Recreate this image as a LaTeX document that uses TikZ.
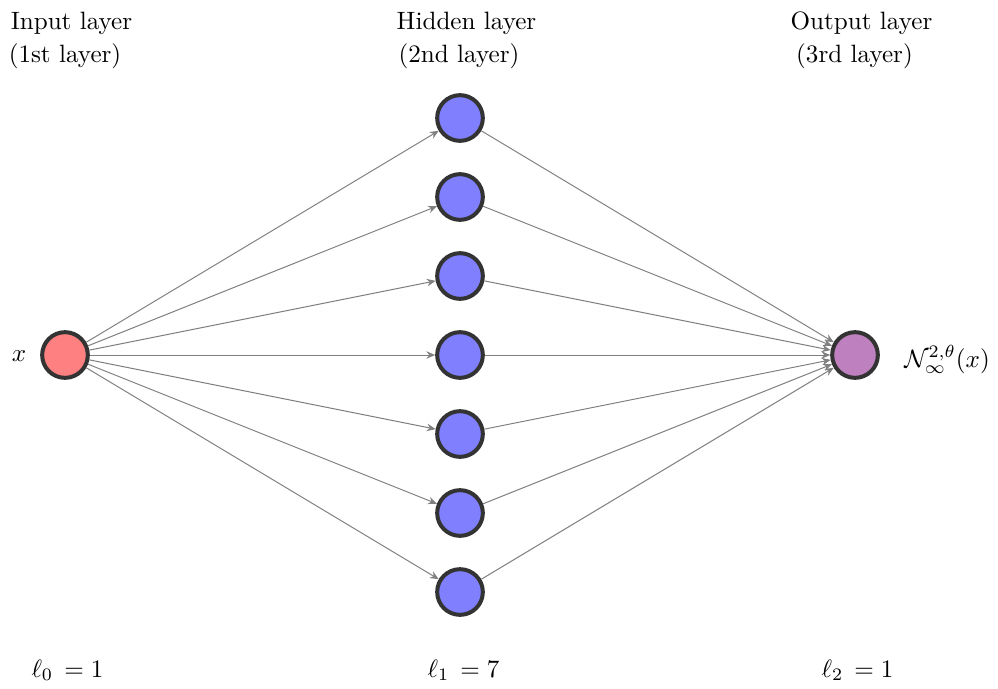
\documentclass[tikz,border=0pt]{standalone}
\usetikzlibrary{arrows.meta}
\begin{document}
\begin{tikzpicture}[x=0.3984pt,y=-0.3984pt,
  neuron/.style={circle,draw=black!80,line width=1.6pt,minimum size=18.2pt,inner sep=0pt},
  inputn/.style={neuron,fill=red!50},
  hiddenn/.style={neuron,fill=blue!50},
  outputn/.style={neuron,fill=violet!50},
  conn/.style={draw=gray,line width=0.4pt,-{Stealth[length=3.5pt,width=3pt]}},
  lbl/.style={inner sep=0pt,anchor=base}]
\useasboundingbox (0,0) rectangle (998,688);
% neurons
\node[inputn] (in) at (65,355) {};
\foreach \i/\y in {1/118,2/197,3/276,4/355,5/434,6/513,7/592}
  \node[hiddenn] (h\i) at (460,\y) {};
\node[outputn] (out) at (855,355) {};
% connectors
\foreach \i in {1,...,7} {
  \draw[conn] (in) -- (h\i);
  \draw[conn] (h\i) -- (out);
}
% labels
\node[lbl] (t1a) at (71.5,29) {Input layer};
\node[lbl] (t1b) at (65,62) {(1st layer)};
\node[lbl] (t2a) at (466.5,29) {Hidden layer};
\node[lbl] (t2b) at (459,62) {(2nd layer)};
\node[lbl] (t3a) at (861.5,29) {Output layer};
\node[lbl] (t3b) at (854.5,62) {(3rd layer)};
\node[lbl] (xl) at (19,361) {$x$};
\node[lbl] (nl) at (947,367) {$\mathcal{N}_\infty^{2,\theta}(x)$};
\node[lbl] (l0) at (67.5,677) {$\ell_0\,= 1$};
\node[lbl] (l1) at (463.5,677) {$\ell_1\,= 7$};
\node[lbl] (l2) at (857.5,677) {$\ell_2\,= 1$};
\end{tikzpicture}
\end{document}
